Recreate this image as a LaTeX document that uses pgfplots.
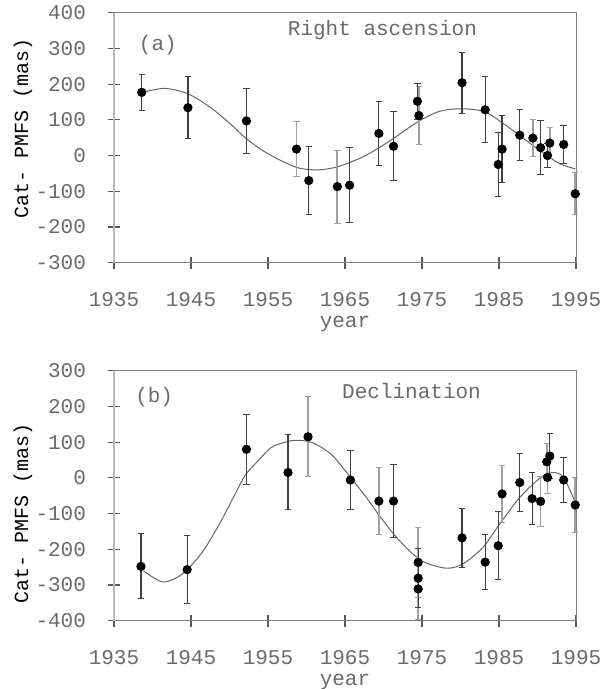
\documentclass[border=0pt]{standalone}
\usepackage{pgfplots}
\pgfplotsset{compat=1.18}
\usepackage{fontspec}
\setmainfont{Liberation Mono}
\definecolor{txt}{HTML}{6A6A6A}
\definecolor{ebdark}{HTML}{404040}
\definecolor{eblight}{HTML}{A0A0A0}
\newcommand{\fs}{\fontsize{10.5}{12}\selectfont}
\pgfplotsset{
  panel/.style={
    scale only axis, width=231pt, height=125pt,
    xmin=1935, xmax=1995,
    xtick={1935,1945,1955,1965,1975,1985,1995},
    xticklabels={1935,1945,1955,1965,1975,1985,1995},
    tick pos=left, tick align=center, major tick length=6pt,
    tick style={draw=black!65, line width=0.6pt},
    axis line style={draw=gray, line width=0.5pt},
    ticklabel style={font=\fs, text=txt},
    xticklabel style={anchor=base, yshift=-19pt},
    yticklabel style={anchor=east, xshift=-7.5pt},
    xlabel={year},
    xlabel style={font=\fs, text=txt, at={(axis description cs:0.5,0)}, anchor=base, yshift=-32.5pt},
    ylabel={Cat- PMFS (mas)},
    ylabel style={font=\fs, text=txt, rotate=0},
    clip=false,
  },
  dk/.style={only marks, mark=*, mark size=2.1pt, black,
    error bars/.cd, y dir=both, y explicit,
    error bar style={draw=ebdark, line width=0.6pt},
    error mark options={rotate=90, mark size=1.6pt, draw=ebdark, line width=0.5pt}},
  lt/.style={only marks, mark=*, mark size=2.1pt, black,
    error bars/.cd, y dir=both, y explicit,
    error bar style={draw=eblight, line width=0.9pt},
    error mark options={rotate=90, mark size=1.6pt, draw=eblight, line width=0.5pt}},
  fit/.style={smooth, no marks, draw=black!60, line width=0.5pt},
}
\begin{document}
\begin{tikzpicture}
\useasboundingbox (-57pt,-34.15pt) rectangle (246pt,310.35pt);
% ---------------- panel (a)
\begin{axis}[panel, at={(0,179pt)}, anchor=south west,
  ymin=-300, ymax=400,
  ytick={-300,-200,-100,0,100,200,300,400},
  yticklabels={-300,-200,-100,0,100,200,300,400},
  every axis y label/.style={at={(axis description cs:-0.197,0.535)}, rotate=90, anchor=center}]
\draw[gray!55, line width=1pt] (rel axis cs:0,0) -- (rel axis cs:0,1);
\addplot[fit] coordinates {
(1938.7,177) (1941.6,188) (1944.6,173) (1947.5,135) (1950.1,89) (1952.2,47)
(1955,5) (1958.7,-33) (1961.5,-40) (1964.1,-31) (1967.2,-5) (1969.5,23)
(1971.5,51) (1974.5,95) (1977.3,124) (1980.3,131) (1983.2,122) (1985.6,89)
(1987.7,56) (1990.3,14) (1992.9,-23) (1994.9,-37)};
\addplot[lt] table[x=x,y=y,y error=e] {
x y e
1958.7 18 77
1964.0 -87 102
1974.6 112 80
1989.4 49 53
1991.6 35 44
1994.9 -107 59
};
\addplot[dk] table[x=x,y=y,y error=e] {
x y e
1938.6 177 50
1944.6 134 86
1952.2 97 92
1960.3 -70 94
1965.6 -83 105
1969.4 62 90
1971.3 26 97
1974.4 152 50
1980.2 204 85
1983.2 128 92
1984.9 -25 89
1985.4 18 94
1987.7 57 71
1990.4 22 76
1991.3 0 33
1993.4 31 52
};
\node[font=\fs, text=txt] at (rel axis cs:0.095,0.87) {(a)};
\node[font=\fs, text=txt] at (rel axis cs:0.581,0.93) {Right ascension};
\end{axis}
% ---------------- panel (b)
\begin{axis}[panel, at={(0,0)}, anchor=south west,
  ymin=-400, ymax=300,
  ytick={-400,-300,-200,-100,0,100,200,300},
  yticklabels={-400,-300,-200,-100,0,100,200,300},
  every axis y label/.style={at={(axis description cs:-0.197,0.43)}, rotate=90, anchor=center}]
\draw[gray!55, line width=1pt] (rel axis cs:0,0) -- (rel axis cs:0,1);
\addplot[fit] coordinates {
(1938.8,-260) (1941.2,-291) (1943.1,-280) (1944.6,-255) (1946.6,-204)
(1948.8,-125) (1950.5,-55) (1952,6) (1953.5,43) (1955.3,83) (1956.6,96)
(1958.5,105) (1960.7,99) (1963.2,66) (1965.4,10) (1967.6,-50) (1969.3,-101)
(1971.5,-162) (1973.6,-209) (1975.4,-237) (1978.2,-253) (1980.3,-241)
(1982.9,-195) (1985.1,-129) (1987.7,-55) (1990.3,-1) (1992,15) (1993.4,1)
(1994.9,-69)};
\addplot[lt] table[x=x,y=y,y error=e] {
x y e
1960.2 115 112
1969.4 -65 93
1974.5 -237 98
1974.5 -311 86
1985.4 -45 79
1990.4 -66 70
1991.2 45 50
1991.3 1 45
1994.9 -76 77
};
\addplot[dk] table[x=x,y=y,y error=e] {
x y e
1938.5 -248 91
1944.5 -257 95
1952.2 80 98
1957.6 15 105
1965.7 -6 83
1971.3 -65 103
1974.5 -281 83
1980.2 -168 83
1983.2 -236 76
1984.9 -190 96
1987.7 -13 82
1989.3 -58 73
1991.6 61 63
1993.4 -6 63
};
\node[font=\fs, text=txt] at (rel axis cs:0.087,0.893) {(b)};
\node[font=\fs, text=txt] at (rel axis cs:0.644,0.92) {Declination};
\end{axis}
\end{tikzpicture}
\end{document}
